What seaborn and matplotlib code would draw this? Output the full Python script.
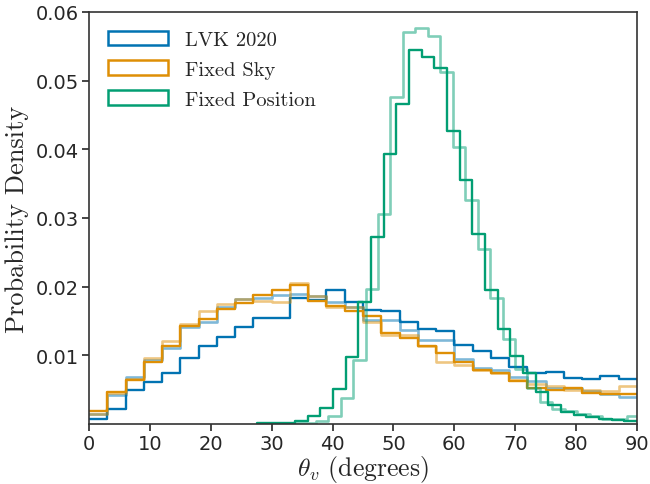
import numpy as np
import pandas as pd
import matplotlib
matplotlib.use("Agg")
import matplotlib.pyplot as plt
import matplotlib.patches as mpatches
import seaborn as sns

# ---------------- data ----------------
edges_3deg = list(range(0, 91, 3))  # 30 bins of 3 degrees

lvk_a = [0.0007, 0.0022, 0.0049, 0.0061, 0.0074, 0.0096, 0.0113, 0.0127, 0.0141, 0.0154,
         0.0155, 0.0183, 0.0180, 0.0195, 0.0177, 0.0166, 0.0164, 0.0149, 0.0138, 0.0135,
         0.0115, 0.0106, 0.0096, 0.0083, 0.0074, 0.0076, 0.0067, 0.0066, 0.0070, 0.0065]
lvk_b = [0.0015, 0.0042, 0.0069, 0.0093, 0.0111, 0.0141, 0.0149, 0.0171, 0.0182, 0.0184,
         0.0188, 0.0189, 0.0187, 0.0178, 0.0170, 0.0152, 0.0151, 0.0137, 0.0123, 0.0122,
         0.0095, 0.0082, 0.0079, 0.0069, 0.0063, 0.0053, 0.0052, 0.0048, 0.0043, 0.0040]

sky_a = [0.0019, 0.0046, 0.0064, 0.0091, 0.0114, 0.0143, 0.0153, 0.0167, 0.0176, 0.0188,
         0.0195, 0.0203, 0.0179, 0.0172, 0.0164, 0.0158, 0.0132, 0.0125, 0.0113, 0.0104,
         0.0090, 0.0079, 0.0074, 0.0063, 0.0053, 0.0049, 0.0052, 0.0045, 0.0044, 0.0044]
sky_b = [0.0015, 0.0045, 0.0066, 0.0096, 0.0121, 0.0146, 0.0164, 0.0175, 0.0182, 0.0179,
         0.0178, 0.0206, 0.0186, 0.0171, 0.0170, 0.0149, 0.0129, 0.0129, 0.0114, 0.0090,
         0.0086, 0.0078, 0.0074, 0.0064, 0.0058, 0.0055, 0.0050, 0.0050, 0.0048, 0.0055]

pos_a_edges = [27.6 + 2.08 * k for k in range(31)]
pos_a = [0.0001, 0.0002, 0.0002, 0.0004, 0.0011, 0.0023, 0.0051, 0.0097, 0.0178, 0.0273,
         0.0393, 0.0466, 0.0544, 0.0534, 0.0518, 0.0426, 0.0355, 0.0277, 0.0195, 0.0138,
         0.0099, 0.0074, 0.0046, 0.0027, 0.0018, 0.0013, 0.0010, 0.0007, 0.0006, 0.0005]
pos_b_edges = [29.065 + 2.045 * k for k in range(31)]
pos_b = [0.0000, 0.0001, 0.0001, 0.0002, 0.0005, 0.0011, 0.0038, 0.0093, 0.0196, 0.0306,
         0.0476, 0.0571, 0.0576, 0.0565, 0.0512, 0.0403, 0.0326, 0.0255, 0.0183, 0.0124,
         0.0080, 0.0053, 0.0032, 0.0022, 0.0019, 0.0014, 0.0011, 0.0008, 0.0007, 0.0011]

labels = ["LVK 2020", "Fixed Sky", "Fixed Position"]
x_ticks = [0, 10, 20, 30, 40, 50, 60, 70, 80, 90]
y_ticks = [0.01, 0.02, 0.03, 0.04, 0.05, 0.06]

# ---------------- style ----------------
sns.set_theme(style="ticks", context="notebook")
plt.rcParams["mathtext.fontset"] = "cm"
plt.rcParams["font.family"] = ["DejaVu Sans"]
pal = sns.color_palette("colorblind")
colors = [pal[0], pal[1], pal[2]]

fig = plt.figure(figsize=(6.5, 4.85), dpi=100)
ax = fig.add_axes([89 / 650, 1 - 425 / 485, (637 - 89) / 650, (425 - 13) / 485])

series = [
    (edges_3deg, lvk_a, edges_3deg, lvk_b),
    (edges_3deg, sky_a, edges_3deg, sky_b),
    (pos_a_edges, pos_a, pos_b_edges, pos_b),
]

for (ea, va, eb, vb), c in zip(series, colors):
    for e, v, a, lw in ((ea, va, 1.0, 1.7), (eb, vb, 0.5, 1.9)):
        e = [float(t) for t in e]
        centers = [(e[i] + e[i + 1]) / 2 for i in range(len(e) - 1)]
        df = pd.DataFrame({"x": centers, "w": v})
        sns.histplot(data=df, x="x", weights="w", bins=e, element="step",
                     fill=False, stat="count", color=c, alpha=a, linewidth=lw, ax=ax)

ax.set_xlim(0, 90)
ax.set_ylim(0, 0.06)
ax.set_xticks(x_ticks)
ax.set_yticks(y_ticks)
ax.set_xticklabels([str(t) for t in x_ticks])
ax.set_yticklabels([f"{t:.2f}" for t in y_ticks])
ax.tick_params(labelsize=14, colors="#262626", length=5, width=1.2, pad=2)
for s in ax.spines.values():
    s.set_visible(True)
    s.set_color("#333333")
    s.set_linewidth(1.2)

ax.set_xlabel(r"$\theta_v$ (degrees)", fontfamily="cmr10", fontsize=18.5, color="#262626", labelpad=0)
ax.set_ylabel("Probability Density", fontfamily="cmr10", fontsize=19, color="#262626", labelpad=5)

handles = [mpatches.Patch(facecolor="none", edgecolor=c, linewidth=1.8) for c in colors]
ax.legend(handles, labels, loc="upper left", bbox_to_anchor=(0.0, 1.0), frameon=False,
          prop={"family": "cmr10", "size": 14.8}, handlelength=2.95,
          handleheight=0.72, labelspacing=0.55, borderaxespad=0.5, handletextpad=0.8)

fig.savefig("out.png", dpi=100)
